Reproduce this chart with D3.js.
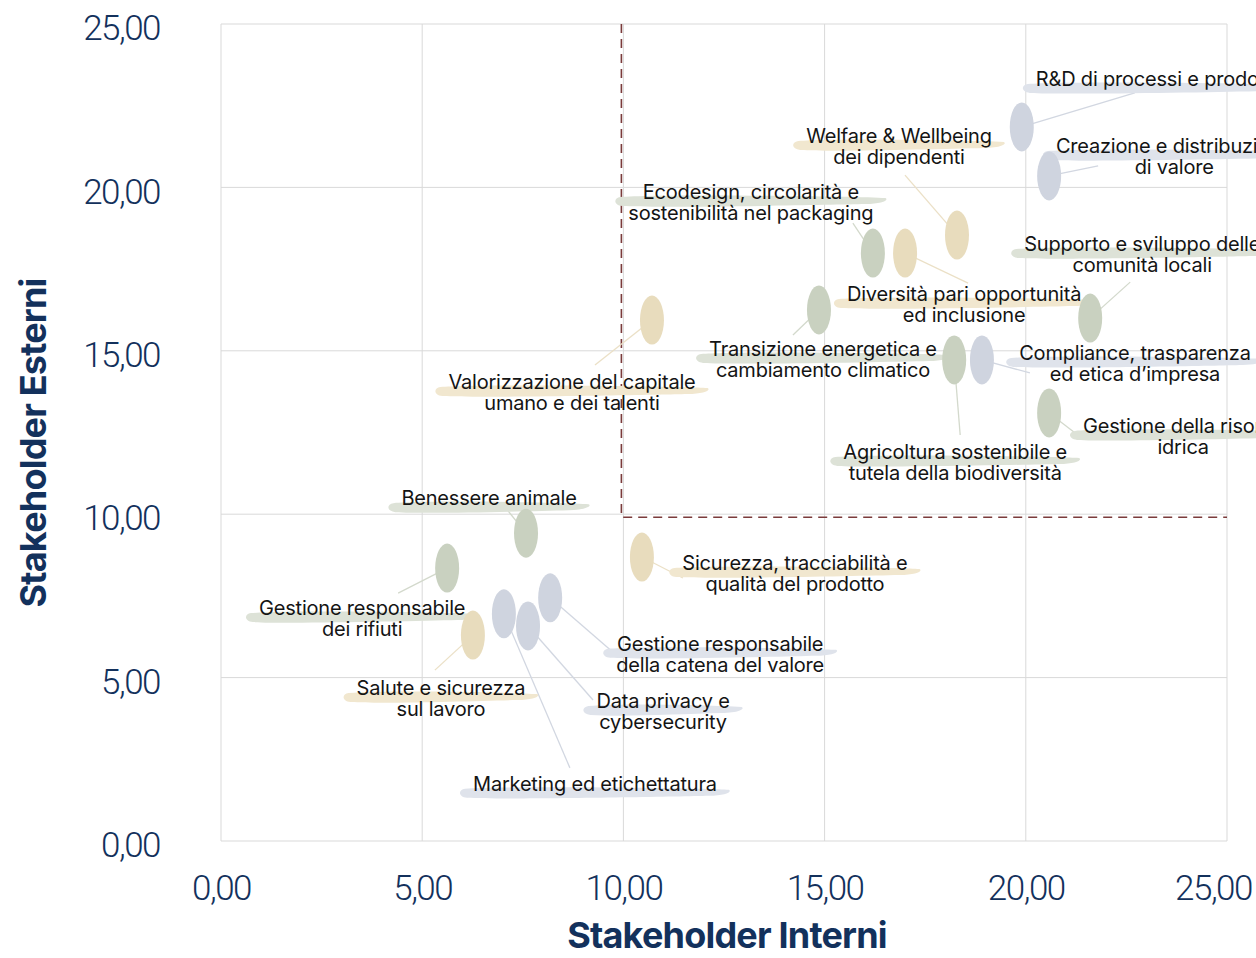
<!DOCTYPE html>
<html>
<head>
<meta charset="utf-8">
<script src="https://cdn.jsdelivr.net/npm/d3@7"></script>
<style>
  body { margin: 0; background: #fff; }
  svg { display: block; }
</style>
</head>
<body>
<script>
// temi materiali, una riga per tema
const topics = [
  'R&D di processi e prodotti',
  'Creazione e distribuzione\ndi valore',
  'Welfare & Wellbeing\ndei dipendenti',
  'Ecodesign, circolarità e\nsostenibilità nel packaging',
  'Diversità pari opportunità\ned inclusione',
  'Supporto e sviluppo delle\ncomunità locali',
  'Transizione energetica e\ncambiamento climatico',
  'Valorizzazione del capitale\numano e dei talenti',
  'Agricoltura sostenibile e\ntutela della biodiversità',
  'Compliance, trasparenza\ned etica d\u2019impresa',
  'Gestione della risorsa\nidrica',
  'Benessere animale',
  'Sicurezza, tracciabilità e\nqualità del prodotto',
  'Gestione responsabile\ndei rifiuti',
  'Gestione responsabile\ndella catena del valore',
  'Marketing ed etichettatura',
  'Data privacy e\ncybersecurity',
  'Salute e sicurezza\nsul lavoro'
]
const interni = [19.9, 20.58, 18.29, 16.2, 17.0, 21.6, 14.86, 10.71, 18.22, 18.91, 20.58, 7.58, 10.46, 5.62, 8.18, 7.03, 7.63, 6.26]
const esterni = [21.85, 20.35, 18.54, 17.99, 17.99, 16.0, 16.25, 15.94, 14.72, 14.72, 13.1, 9.42, 8.69, 8.35, 7.44, 6.95, 6.58, 6.3]
const ambito = ['governance', 'governance', 'persone', 'ambiente', 'persone', 'ambiente', 'ambiente', 'persone', 'ambiente',
  'governance', 'ambiente', 'ambiente', 'persone', 'ambiente', 'governance', 'governance', 'governance', 'persone']
const ticks = [0, 5, 10, 15, 20, 25]
const soglia = 10

// posizione etichette (px rispetto al punto): [dx, dy, fine linea dx, fine linea dy]
const labelPos = [
  [134, -48, 113, -34], [125, -30, 49, -10], [-58, -99, -52, -60], [-122, -61, -20, -30],
  [59, 41, 63, 30], [52, -74, 40, -36], [4, 39, -26, 25], [-80, 62, -57, 45],
  [1, 92, 6, 75], [153, -7, 48, 13], [134, 13, 26, 20], [-37, -35, -21, -26],
  [153, 6, 41, 21], [-85, 40, -49, 25], [170, 46, 60, 52], [91, 170, 66, 154],
  [135, 75, 65, 74], [-32, 53, -38, 35]
]

const colors = { ambiente: '#c9d1c0', persone: '#e8dcbd', governance: '#cfd4df' }
const brush = { ambiente: '#dde2d7', persone: '#f1e7cf', governance: '#dfe3eb' }
const leader = { ambiente: '#d3d9cc', persone: '#ebe0c6', governance: '#d2d7e1' }

const W = 1256, H = 958
const m = { left: 221, right: 1227, top: 24, bottom: 841 }
const navy = '#13315c'

const svg = d3.select('body').append('svg').attr('width', W).attr('height', H)

const x = d3.scaleLinear().domain([0, 25]).range([m.left, m.right])
const y = d3.scaleLinear().domain([0, 25]).range([m.bottom, m.top])
const fmt = v => d3.format('.2f')(v).replace('.', ',')

// griglia
const grid = svg.append('g')
grid.selectAll('.gx').data(ticks).join('line')
  .attr('x1', d => x(d)).attr('x2', d => x(d)).attr('y1', m.top).attr('y2', m.bottom)
  .attr('stroke', '#d9d9d9').attr('stroke-width', 1)
grid.selectAll('.gy').data(ticks).join('line')
  .attr('y1', d => y(d)).attr('y2', d => y(d)).attr('x1', m.left).attr('x2', m.right)
  .attr('stroke', '#d9d9d9').attr('stroke-width', 1)

// assi
const xAxis = svg.append('g').attr('transform', `translate(0,${m.bottom})`)
  .call(d3.axisBottom(x).tickValues(ticks).tickFormat(fmt).tickSize(0).tickPadding(34))
const yAxis = svg.append('g').attr('transform', `translate(${m.left},0)`)
  .call(d3.axisLeft(y).tickValues(ticks).tickFormat(fmt).tickSize(0).tickPadding(61))
svg.selectAll('.domain').remove()
svg.selectAll('.tick text')
  .attr('fill', navy).style('font-family', 'Roboto').style('font-weight', 300)
  .style('font-size', '35px').style('letter-spacing', '-1.5px')
yAxis.selectAll('.tick text').attr('dy', '0.45em')
xAxis.selectAll('.tick text').filter(d => d === 25).attr('dx', -14)

svg.append('text').text('Stakeholder Interni')
  .attr('x', 727).attr('y', 948).attr('text-anchor', 'middle')
  .attr('fill', navy).style('font-family', 'Inter').style('font-weight', 700)
  .style('font-size', '36px').style('letter-spacing', '-0.8px')
svg.append('text').text('Stakeholder Esterni')
  .attr('transform', 'translate(46,443) rotate(-90)').attr('text-anchor', 'middle')
  .attr('fill', navy).style('font-family', 'Inter').style('font-weight', 700)
  .style('font-size', '36px').style('letter-spacing', '-0.8px')

// quadrante temi materiali
svg.append('path')
  .attr('d', `M${x(soglia) - 2},${m.top}V${y(soglia) + 3}H${m.right}`)
  .attr('fill', 'none').attr('stroke', '#7b3b3b').attr('stroke-width', 1.6)
  .attr('stroke-dasharray', '9,6')

const pts = topics.map((t, i) => ({
  lines: t.split('\n'), cx: x(interni[i]), cy: y(esterni[i]), g: ambito[i], lp: labelPos[i]
}))

// linee guida
svg.append('g').selectAll('line').data(pts).join('line')
  .attr('x1', d => d.cx).attr('y1', d => d.cy)
  .attr('x2', d => d.cx + d.lp[2]).attr('y2', d => d.cy + d.lp[3])
  .attr('stroke', d => leader[d.g]).attr('stroke-width', 1.3)

// etichette con pennellata
const lab = svg.append('g').selectAll('g').data(pts).join('g')
  .attr('transform', d => `translate(${d.cx + d.lp[0]},${d.cy + d.lp[1]})`)
const brushPath = lab.append('path')
const txt = lab.append('text')
  .attr('text-anchor', 'middle').attr('fill', '#141414')
  .style('font-family', 'Inter').style('font-size', '20px').style('letter-spacing', '-0.2px')
txt.selectAll('tspan').data(d => d.lines).join('tspan')
  .attr('x', 0).attr('y', (l, j) => j * 21 + 7).text(l => l)
brushPath.each(function (d, i) {
  const bb = txt.nodes()[i].getBBox()
  const x0 = bb.x - 12, x1 = bb.x + bb.width + 12, yb = 9
  const p = d3.path()
  p.moveTo(x0 + 4, yb - 4)
  p.bezierCurveTo(x0 + 40, yb - 7, x1 - 30, yb - 5, x1, yb - 3)
  p.bezierCurveTo(x1 + 4, yb - 1, x1 - 4, yb + 3, x1 - 20, yb + 3)
  p.bezierCurveTo(x1 - 60, yb + 4, x0 + 40, yb + 7, x0 + 6, yb + 5)
  p.bezierCurveTo(x0 - 3, yb + 4, x0 - 3, yb - 3, x0 + 4, yb - 4)
  p.closePath()
  d3.select(this).attr('d', p.toString()).attr('fill', brush[d.g])
})
txt.raise()

// punti
svg.append('g').selectAll('ellipse').data(pts).join('ellipse')
  .attr('cx', d => d.cx).attr('cy', d => d.cy).attr('rx', 12).attr('ry', 24.5)
  .attr('fill', d => colors[d.g])
</script>
</body>
</html>
